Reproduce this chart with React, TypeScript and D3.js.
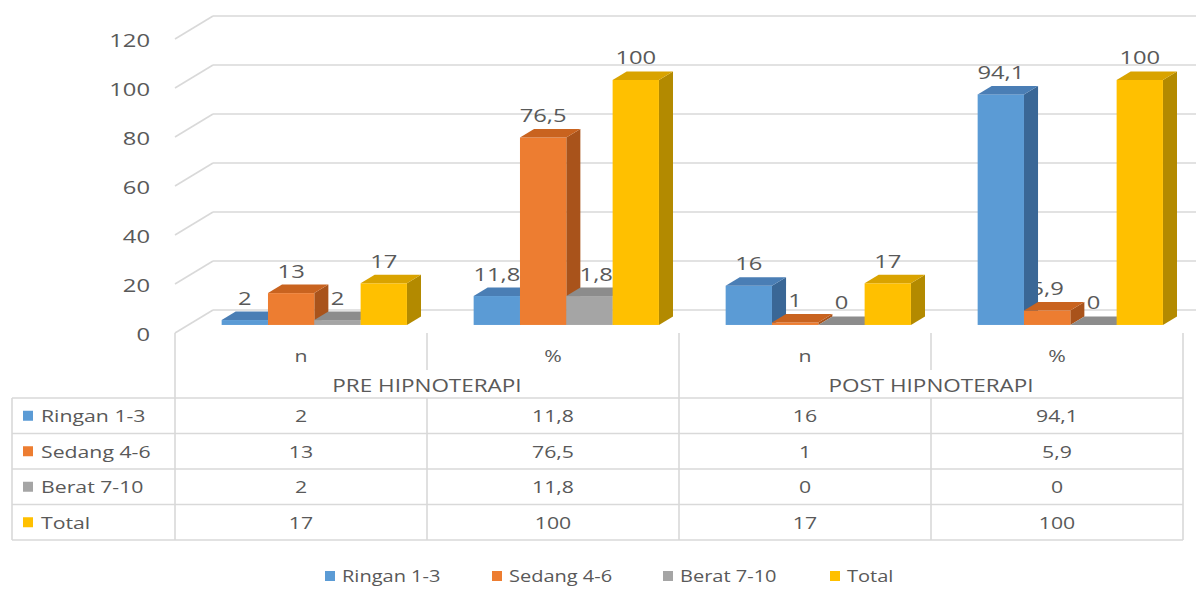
import React from 'react';
import * as d3 from 'd3';

const categories = ['n', '%', 'n', '%'];
const groups = ['PRE HIPNOTERAPI', 'POST HIPNOTERAPI'];
const seriesNames = ['Ringan 1-3', 'Sedang 4-6', 'Berat 7-10', 'Total'];
const ringan = [2, 11.8, 16, 94.1];
const sedang = [13, 76.5, 1, 5.9];
const berat = [2, 11.8, 0, 0];
const total = [17, 100, 17, 100];
const yTicks = [0, 20, 40, 60, 80, 100, 120];

const seriesValues = [ringan, sedang, berat, total];

// front / top / side shades per series
const colors = [
  { front: '#5B9BD5', top: '#4A7EB5', side: '#3A6796' },
  { front: '#ED7D31', top: '#C9631F', side: '#A9531B' },
  { front: '#A5A5A5', top: '#8C8C8C', side: '#7A7A7A' },
  { front: '#FFC000', top: '#D9A300', side: '#B38A00' },
];

const W = 1196;
const H = 589;
const FONT = '"Open Sans", sans-serif';
const TXT = '#595959';
const GRID = '#D9D9D9';
const SX = 1.25; // the picture is stretched sideways a little

// depth vector of the 3D box
const DX = 38;
const DY = -23;
const F0 = 0.35; // bar front depth
const F1 = 0.72; // bar back depth

const fmt = (v: number) => String(v).replace('.', ',');

const T: React.FC<{ x: number; y: number; size: number; anchor?: string; children: React.ReactNode }> = ({
  x, y, size, anchor = 'middle', children,
}) => (
  <text
    transform={`translate(${x},${y}) scale(${SX},1)`}
    textAnchor={anchor}
    dominantBaseline="central"
    fontFamily={FONT}
    fontSize={size}
    fill={TXT}
  >
    {children}
  </text>
);

const App: React.FC = () => {
  const x = d3.scaleBand<number>().domain(d3.range(categories.length)).range([175, 1183]).padding(0);
  const xs = d3.scaleBand<number>().domain(d3.range(seriesNames.length)).range([0, x.bandwidth()])
    .paddingInner(0).paddingOuter(0.72);
  const y = d3.scaleLinear().domain([0, 120]).range([333, 39]);

  const bw = xs.bandwidth();
  const bdx = (F1 - F0) * DX;
  const bdy = (F1 - F0) * DY;

  const bars = categories.flatMap((_, ci) =>
    seriesNames.map((_, si) => {
      const v = seriesValues[si][ci];
      const x0 = (x(ci) as number) + (xs(si) as number) + F0 * DX;
      const yb = y(0) + F0 * DY;
      const yt = y(v) + F0 * DY;
      return { ci, si, v, x0, yb, yt };
    })
  );

  const rowTop = 398;
  const rowH = 35.5;
  const groupX = d3.scaleBand<number>().domain(d3.range(groups.length)).range([175, 1183]);

  const legendX = [325, 492, 663, 830];

  return (
    <svg width={W} height={H} style={{ position: 'absolute', left: 0, top: 0, background: '#fff' }}>
      {/* back wall gridlines and side wall diagonals */}
      {yTicks.map((t) => (
        <g key={t}>
          <line x1={175 + DX} x2={W} y1={y(t) + DY} y2={y(t) + DY} stroke={GRID} strokeWidth={1.6} />
          <line x1={175} x2={175 + DX} y1={y(t)} y2={y(t) + DY} stroke={GRID} strokeWidth={1.6} />
          <T x={150} y={y(t)} size={19} anchor="end">{t}</T>
        </g>
      ))}

      {/* data labels sit behind the bars */}
      {bars.map((b) => (
        <T key={`l${b.ci}-${b.si}`} x={b.x0 + bw / 2} y={b.yt - 23} size={19}>{fmt(b.v)}</T>
      ))}

      {bars.map((b) => {
        const c = colors[b.si];
        return (
          <g key={`b${b.ci}-${b.si}`}>
            <polygon
              points={`${b.x0 + bw},${b.yt} ${b.x0 + bw + bdx},${b.yt + bdy} ${b.x0 + bw + bdx},${b.yb + bdy} ${b.x0 + bw},${b.yb}`}
              fill={c.side}
            />
            <rect x={b.x0} y={b.yt} width={bw} height={Math.max(0, b.yb - b.yt)} fill={c.front} />
            <polygon
              points={`${b.x0},${b.yt} ${b.x0 + bw},${b.yt} ${b.x0 + bw + bdx},${b.yt + bdy} ${b.x0 + bdx},${b.yt + bdy}`}
              fill={c.top}
            />
          </g>
        );
      })}

      {/* data table */}
      <g stroke={GRID} strokeWidth={1.6}>
        <line x1={12} x2={1183} y1={rowTop} y2={rowTop} />
        {seriesNames.map((_, i) => (
          <line key={i} x1={12} x2={1183} y1={rowTop + rowH * (i + 1)} y2={rowTop + rowH * (i + 1)} />
        ))}
        <line x1={12} x2={12} y1={rowTop} y2={rowTop + rowH * 4} />
        <line x1={175} x2={175} y1={333} y2={rowTop + rowH * 4} />
        {categories.map((_, ci) => {
          const xr = (x(ci) as number) + x.bandwidth();
          const full = ci % 2 === 1;
          return full ? (
            <line key={ci} x1={xr} x2={xr} y1={333} y2={rowTop + rowH * 4} />
          ) : (
            <g key={ci}>
              <line x1={xr} x2={xr} y1={333} y2={370} />
              <line x1={xr} x2={xr} y1={rowTop} y2={rowTop + rowH * 4} />
            </g>
          );
        })}
      </g>
      {categories.map((c, ci) => (
        <T key={`c${ci}`} x={(x(ci) as number) + x.bandwidth() / 2} y={355} size={17}>{c}</T>
      ))}
      {groups.map((g, gi) => (
        <T key={`g${gi}`} x={(groupX(gi) as number) + groupX.bandwidth() / 2} y={385} size={18}>{g}</T>
      ))}
      {seriesNames.map((s, si) => {
        const cy = rowTop + rowH * si + rowH / 2;
        return (
          <g key={`r${si}`}>
            <rect x={23} y={cy - 5} width={10} height={10} fill={colors[si].front} />
            <T x={41} y={cy} size={17} anchor="start">{s}</T>
            {categories.map((_, ci) => (
              <T key={ci} x={(x(ci) as number) + x.bandwidth() / 2} y={cy} size={17}>
                {fmt(seriesValues[si][ci])}
              </T>
            ))}
          </g>
        );
      })}

      {/* legend */}
      {seriesNames.map((s, si) => (
        <g key={`lg${si}`}>
          <rect x={legendX[si]} y={571} width={10} height={10} fill={colors[si].front} />
          <T x={legendX[si] + 17} y={576} size={16} anchor="start">{s}</T>
        </g>
      ))}
    </svg>
  );
};

export default App;
